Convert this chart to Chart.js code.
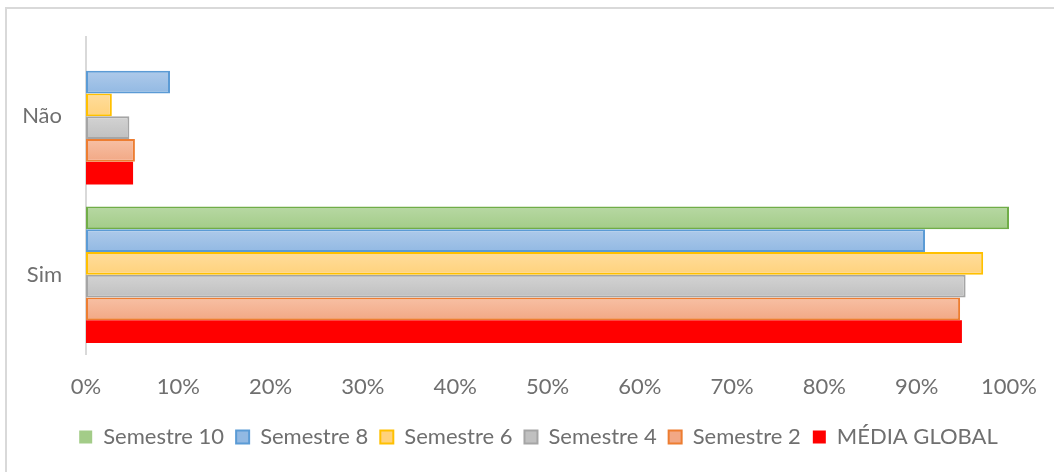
<!DOCTYPE html>
<html><head><meta charset="utf-8">
<script src="https://cdn.jsdelivr.net/npm/chart.js@4"></script>
<style>
html,body{margin:0;padding:0;background:#fff;overflow:hidden;width:1054px;height:472px;}
#frame{position:absolute;left:5px;top:7px;width:1100px;height:520px;border:2px solid #d9d9d9;box-sizing:border-box;}
#wrap{position:absolute;left:0;top:0;width:1054px;height:472px;}
</style></head><body>
<div id="frame"></div>
<div id="wrap"><canvas id="c" width="1054" height="472"></canvas></div>
<script>
const categories = ['Não', 'Sim'];
const seriesNames = ['Semestre 10', 'Semestre 8', 'Semestre 6', 'Semestre 4', 'Semestre 2', 'MÉDIA GLOBAL'];
const semestre10 = [0, 100];
const semestre8 = [9.1, 90.9];
const semestre6 = [2.8, 97.2];
const semestre4 = [4.7, 95.3];
const semestre2 = [5.3, 94.7];
const mediaGlobal = [5.1, 94.9];
const tickValues = [0, 10, 20, 30, 40, 50, 60, 70, 80, 90, 100];

const CAT_PCT = 0.86;
const FONT = 'Lato';
const TEXT = '#6f6f6f';
const LEGEND_SHIFT = 26;

function grad(top, bottom, mid) {
  return function (c) {
    if (c.type !== 'data') return mid;
    const chart = c.chart, ys = chart.scales.y;
    if (!ys || !chart.chartArea) return mid;
    const center = ys.getPixelForValue(c.dataIndex);
    const catSize = (ys.bottom - ys.top) / categories.length * CAT_PCT;
    const n = chart.data.datasets.length;
    const thick = catSize / n;
    const y0 = center - catSize / 2 + c.datasetIndex * thick;
    const g = chart.ctx.createLinearGradient(0, y0, 0, y0 + thick);
    g.addColorStop(0, top);
    g.addColorStop(1, bottom);
    return g;
  };
}
function bw(w) {
  return function (c) {
    if (c.type === 'data' && !c.raw) return 0;
    return w;
  };
}

const allValues = [semestre10, semestre8, semestre6, semestre4, semestre2, mediaGlobal];
const styles = [
  { bg: grad('#b7d8a3', '#a3cc88', '#a9d18e'), border: '#70ad47', w: 2 },
  { bg: grad('#aecaea', '#92b9e3', '#9dc3e6'), border: '#5b9bd5', w: 2 },
  { bg: grad('#ffdd9c', '#ffd27c', '#ffd88a'), border: '#ffc000', w: 2 },
  { bg: grad('#d3d3d3', '#c0c0c0', '#c9c9c9'), border: '#a5a5a5', w: 2 },
  { bg: grad('#f7c0a4', '#f2a885', '#f4b393'), border: '#ed7d31', w: 2 },
  { bg: '#ff0000', border: '#ff0000', w: 0 }
];

const datasets = seriesNames.map((name, i) => ({
  label: name,
  data: allValues[i],
  backgroundColor: styles[i].bg,
  borderColor: styles[i].border,
  borderWidth: bw(styles[i].w),
  borderSkipped: false,
  categoryPercentage: CAT_PCT,
  barPercentage: 1.0
}));

const shiftLegend = {
  id: 'shiftLegend',
  afterLayout(chart) {
    const lg = chart.legend;
    if (lg) { lg.left += LEGEND_SHIFT; lg.right += LEGEND_SHIFT; }
  }
};

new Chart(document.getElementById('c'), {
  type: 'bar',
  data: { labels: categories, datasets: datasets },
  plugins: [shiftLegend],
  options: {
    indexAxis: 'y',
    responsive: false,
    animation: false,
    devicePixelRatio: 1,
    layout: { padding: { left: 16, right: 45, top: 37, bottom: 14 } },
    scales: {
      x: {
        min: 0, max: 100,
        afterBuildTicks: (s) => { s.ticks = tickValues.map(v => ({ value: v })); },
        grid: { display: false, drawTicks: false },
        border: { display: false },
        ticks: { padding: 20, color: TEXT, font: { family: FONT, size: 22 }, callback: (v) => v + '%', maxRotation: 0, autoSkip: false },
        afterFit: (s) => { s.height = 60; s.paddingLeft = 0; s.paddingRight = 0; }
      },
      y: {
        grid: { display: false, drawTicks: false },
        border: { display: true, color: '#d9d9d9', width: 2 },
        ticks: { padding: 24, color: TEXT, font: { family: FONT, size: 22 } },
        afterFit: (s) => { s.width = 70; s.paddingTop = 0; s.paddingBottom = 0; }
      }
    },
    plugins: {
      legend: {
        position: 'bottom',
        labels: { boxWidth: 13, boxHeight: 13, padding: 12, color: TEXT, font: { family: FONT, size: 22 } }
      },
      tooltip: { enabled: false },
      title: { display: false }
    }
  }
});
</script>
</body></html>
